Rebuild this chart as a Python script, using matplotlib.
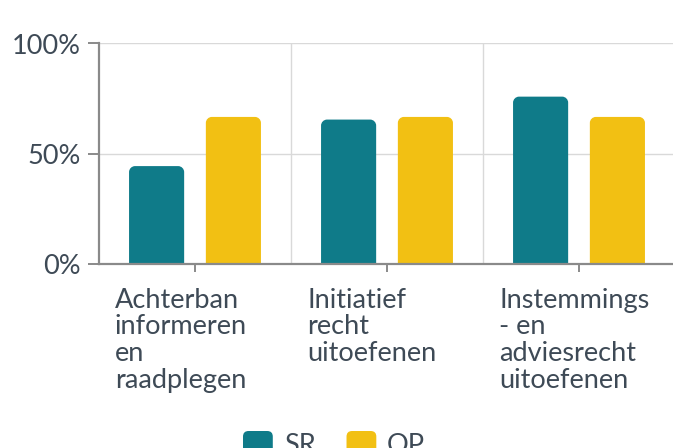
import matplotlib
matplotlib.use("Agg")
import matplotlib.pyplot as plt
import matplotlib.transforms as mtransforms
from matplotlib.path import Path
from matplotlib.patches import PathPatch, Patch, FancyBboxPatch
from matplotlib.legend_handler import HandlerPatch
import numpy as np

categories = ["Achterban\ninformeren\nen\nraadplegen", "Initiatief\nrecht\nuitoefenen",
              "Instemmings\n- en\nadviesrecht\nuitoefenen"]
series_names = ["SR", "OP"]
sr_values = [0.444, 0.655, 0.759]
op_values = [0.667, 0.667, 0.667]
yticks = [0, 0.5, 1.0]
ytick_labels = ["0%", "50%", "100%"]

colors = {"SR": "#0f7b89", "OP": "#f2c013"}
text_color = "#3e4a56"
fs = 19.5

plt.rcParams['font.family'] = ['Lato', 'DejaVu Sans']

W, H = 673, 448
fig = plt.figure(figsize=(W / 100, H / 100), dpi=100)
ax = fig.add_axes([99 / W, 184 / H, 576 / W, 220.5 / H])
ax.set_xlim(-0.5, 2.5)
ax.set_ylim(0, 1)

x = np.arange(len(categories))
bw = 0.287
offsets = [-0.2, 0.2]
r_px = 6

fig.canvas.draw()
px_per_x = ax.bbox.width / 3.0
px_per_y = ax.bbox.height / 1.0
rx = r_px / px_per_x
ry = r_px / px_per_y


def rounded_bar(ax, xc, h, w, color):
    x0, x1 = xc - w / 2, xc + w / 2
    k = 0.5523
    verts = [(x0, 0), (x0, h - ry),
             (x0, h - ry + k * ry), (x0 + rx - k * rx, h), (x0 + rx, h),
             (x1 - rx, h),
             (x1 - rx + k * rx, h), (x1, h - ry + k * ry), (x1, h - ry),
             (x1, 0), (x0, 0)]
    codes = [Path.MOVETO, Path.LINETO,
             Path.CURVE4, Path.CURVE4, Path.CURVE4,
             Path.LINETO,
             Path.CURVE4, Path.CURVE4, Path.CURVE4,
             Path.LINETO, Path.CLOSEPOLY]
    ax.add_patch(PathPatch(Path(verts, codes), facecolor=color, edgecolor='none', zorder=3))


for vals, name, off in zip([sr_values, op_values], series_names, offsets):
    for xi, v in zip(x, vals):
        rounded_bar(ax, xi + off, v, bw, colors[name])

# grid
for yv in [0.5, 1.0]:
    ax.axhline(yv, color="#d9d9d9", lw=1, zorder=1)
for xb in [0.5, 1.5]:
    ax.axvline(xb, color="#d9d9d9", lw=1, zorder=1)

for s in ["top", "right"]:
    ax.spines[s].set_visible(False)
ax.spines["left"].set_color("#8a8a8a")
ax.spines["left"].set_linewidth(1.6)
ax.spines["bottom"].set_color("#8a8a8a")
ax.spines["bottom"].set_linewidth(1.6)
ax.spines["bottom"].set_zorder(4)

ax.set_yticks(yticks)
ax.set_yticklabels(ytick_labels, fontsize=fs, color=text_color)
ax.tick_params(axis='y', length=8, width=1.4, color="#8a8a8a", pad=5)

ax.set_xticks(x)
ax.set_xticklabels(categories, fontsize=fs, color=text_color, ha='left',
                   linespacing=1.09)
ax.tick_params(axis='x', length=6, width=1.4, color="#8a8a8a", pad=11)
offset = mtransforms.ScaledTranslation(-80 / 100, 0, fig.dpi_scale_trans)
for lbl in ax.get_xticklabels():
    lbl.set_transform(lbl.get_transform() + offset)


class RoundedSquareHandler(HandlerPatch):
    def create_artists(self, legend, orig_handle, xdescent, ydescent, width, height,
                       fontsize, trans):
        p = FancyBboxPatch((-xdescent, -ydescent), width, height,
                           boxstyle="round,pad=0,rounding_size=4",
                           facecolor=orig_handle.get_facecolor(), edgecolor='none',
                           transform=trans)
        return [p]


handles = [Patch(facecolor=colors[n], edgecolor='none', label=n) for n in series_names]
fig.legend(handles=handles, loc='upper left', bbox_to_anchor=(243 / W, 1 - 431 / H),
           ncol=2, frameon=False, fontsize=fs, handlelength=1.1, handleheight=1.1,
           columnspacing=1.15, handletextpad=0.4, labelcolor=text_color,
           borderpad=0, borderaxespad=0,
           handler_map={Patch: RoundedSquareHandler()})

fig.savefig("out.png", dpi=100)
